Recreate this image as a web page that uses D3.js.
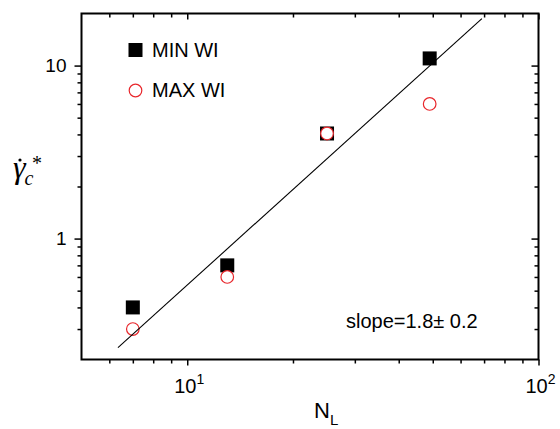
<!DOCTYPE html>
<html>
<head>
<meta charset="utf-8">
<script src="https://cdn.jsdelivr.net/npm/d3@7"></script>
<style>
  body { margin: 0; background: #fff; }
  svg text { font-family: Arial, "Liberation Sans", sans-serif; fill: #000; }
</style>
</head>
<body>
<div id="chart"></div>
<script>
/*************
Data
**************/
var nL = [7, 13, 25, 49];
var minWi = [0.4, 0.7, 4.05, 11];
var maxWi = [0.3, 0.6, 4.05, 6];
var fitX = [6.35, 69];
var fitY = [0.234, 18.7];
var xMajor = [10, 100];
var xLabels = [["10", "1"], ["10", "2"]];
var yMajor = [1, 10];
var yLabels = ["1", "10"];
var slopeText = "slope=1.8\u00b1 0.2";

/*************
Params
**************/
var width = 560, height = 429;
var margin = { top: 13.5, right: 21.5, bottom: 69.5, left: 81.5 };
var iw = width - margin.left - margin.right;
var ih = height - margin.top - margin.bottom;

var x = d3.scaleLog().domain([5, 100]).range([0, iw]);
var y = d3.scaleLog().domain([0.2, 20]).range([ih, 0]);

var xMinor = [6, 7, 8, 9, 20, 30, 40, 50, 60, 70, 80, 90];
var yMinor = [0.3, 0.4, 0.5, 0.6, 0.7, 0.8, 0.9, 2, 3, 4, 5, 6, 7, 8, 9];

const svg = d3.select("#chart")
 .append("svg")
 .attr("width", width)
 .attr("height", height);

const g = svg.append("g")
 .attr("transform", "translate(" + margin.left + "," + margin.top + ")");

// axes: outward ticks bottom/left, inward mirrored top/right
function styleAxis(sel) {
  sel.select(".domain").remove();
  sel.selectAll("line").attr("stroke", "#000").attr("stroke-width", 1.5);
}
g.append("g").attr("transform", "translate(0," + ih + ")")
 .call(d3.axisBottom(x).tickValues(xMajor).tickSize(6).tickFormat("")).call(styleAxis);
g.append("g").attr("transform", "translate(0," + ih + ")")
 .call(d3.axisBottom(x).tickValues(xMinor).tickSize(4).tickFormat("")).call(styleAxis);
g.append("g")
 .call(d3.axisBottom(x).tickValues(xMajor).tickSize(6).tickFormat("")).call(styleAxis);
g.append("g")
 .call(d3.axisBottom(x).tickValues(xMinor).tickSize(4).tickFormat("")).call(styleAxis);
g.append("g")
 .call(d3.axisLeft(y).tickValues(yMajor).tickSize(7).tickFormat("")).call(styleAxis);
g.append("g")
 .call(d3.axisLeft(y).tickValues(yMinor).tickSize(4).tickFormat("")).call(styleAxis);
g.append("g").attr("transform", "translate(" + iw + ",0)")
 .call(d3.axisLeft(y).tickValues(yMajor).tickSize(7).tickFormat("")).call(styleAxis);
g.append("g").attr("transform", "translate(" + iw + ",0)")
 .call(d3.axisLeft(y).tickValues(yMinor).tickSize(4).tickFormat("")).call(styleAxis);

g.append("rect")
 .attr("width", iw).attr("height", ih)
 .attr("fill", "none").attr("stroke", "#000").attr("stroke-width", 2);

// tick labels
g.selectAll(".xlab")
 .data(xMajor)
 .enter().append("text")
 .attr("x", d => x(d) + 2)
 .attr("y", ih + 33)
 .attr("text-anchor", "middle")
 .style("font-size", "20px")
 .each(function(d, i) {
   const t = d3.select(this);
   t.append("tspan").text(xLabels[i][0]);
   t.append("tspan").attr("dy", -9).style("font-size", "14px").text(xLabels[i][1]);
 });

g.selectAll(".ylab")
 .data(yMajor)
 .enter().append("text")
 .attr("x", -15)
 .attr("y", d => y(d))
 .attr("dy", "0.36em")
 .attr("text-anchor", "end")
 .style("font-size", "19px")
 .text((d, i) => yLabels[i]);

// axis titles
const xt = svg.append("text")
 .attr("x", 314).attr("y", 418)
 .style("font-size", "22px");
xt.append("tspan").text("N");
xt.append("tspan").attr("dy", 7).style("font-size", "15px").text("L");

const yt = svg.append("text")
 .attr("x", 13).attr("y", 178)
 .style("font-family", "'Liberation Serif', 'Times New Roman', serif")
 .style("font-style", "italic")
 .style("font-size", "32px");
yt.append("tspan").text("\u03b3");
yt.append("tspan").attr("dy", 7).attr("dx", -1).style("font-size", "20px").text("c");
svg.append("text")
 .attr("x", 32).attr("y", 170)
 .style("font-family", "'Liberation Serif', 'Times New Roman', serif")
 .style("font-size", "20px")
 .text("*");
svg.append("circle").attr("cx", 20).attr("cy", 160).attr("r", 1.6).attr("fill", "#000");

// data
var sq = 14;
g.selectAll(".sq")
 .data(nL)
 .enter().append("rect")
 .attr("x", d => x(d) - sq / 2)
 .attr("y", (d, i) => y(minWi[i]) - sq / 2)
 .attr("width", sq).attr("height", sq)
 .attr("fill", "#000");

g.selectAll(".ci")
 .data(nL)
 .enter().append("circle")
 .attr("cx", d => x(d))
 .attr("cy", (d, i) => y(maxWi[i]))
 .attr("r", 6.3)
 .attr("fill", "#fff")
 .attr("stroke", "#e8262b")
 .attr("stroke-width", 1.2);

g.append("path")
 .datum(d3.zip(fitX, fitY))
 .attr("d", d3.line().x(d => x(d[0])).y(d => y(d[1])))
 .attr("fill", "none")
 .attr("stroke", "#000")
 .attr("stroke-width", 1.1);

// legend
svg.append("rect").attr("x", 128.5).attr("y", 43).attr("width", 14).attr("height", 14).attr("fill", "#000");
svg.append("text").attr("x", 152).attr("y", 57).style("font-size", "20px").text("MIN WI");
svg.append("circle").attr("cx", 135.5).attr("cy", 90.5).attr("r", 6.3)
 .attr("fill", "#fff").attr("stroke", "#e8262b").attr("stroke-width", 1.2);
svg.append("text").attr("x", 152).attr("y", 97).style("font-size", "20px").text("MAX WI");

svg.append("text").attr("x", 346).attr("y", 328)
 .style("font-size", "20px")
 .text(slopeText);
</script>
</body>
</html>
